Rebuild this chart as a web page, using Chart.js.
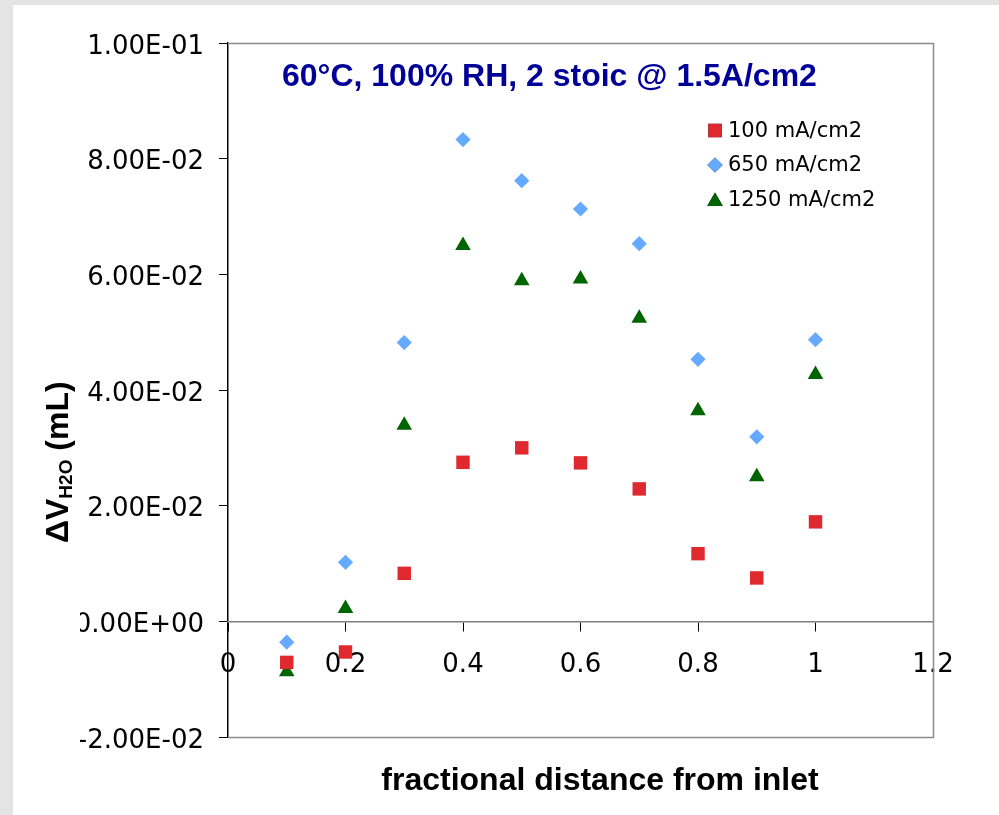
<!DOCTYPE html>
<html>
<head>
<meta charset="utf-8">
<script src="https://cdn.jsdelivr.net/npm/chart.js@4.4.1/dist/chart.umd.min.js"></script>
<style>
  html, body { margin: 0; padding: 0; background: #ffffff; }
  #wrap { width: 999px; height: 815px; }
</style>
</head>
<body>
<div id="wrap"><canvas id="scatter" width="999" height="815"></canvas></div>
<script>
// fractional distance from inlet
const distance = [0.1, 0.2, 0.3, 0.4, 0.5, 0.6, 0.7, 0.8, 0.9, 1.0];

// delta V H2O (mL) for each current density
const dv100 = [-0.0071, -0.0053, 0.0083, 0.0275, 0.0300, 0.0274, 0.0229, 0.0117, 0.0075, 0.0172];
const dv650 = [-0.0036, 0.0102, 0.0482, 0.0833, 0.0762, 0.0713, 0.0653, 0.0453, 0.0319, 0.0487];
const dv1250 = [-0.0087, 0.0022, 0.0339, 0.0650, 0.0589, 0.0592, 0.0524, 0.0364, 0.0250, 0.0427];

const seriesNames = ["100 mA/cm2", "650 mA/cm2", "1250 mA/cm2"];
const yTicks = [-0.02, 0, 0.02, 0.04, 0.06, 0.08, 0.1];
const xTicks = [0, 0.2, 0.4, 0.6, 0.8, 1, 1.2];

const chartTitle = "60\u00B0C, 100% RH, 2 stoic @ 1.5A/cm2";
const xTitle = "fractional distance from inlet";

function toPoints(ys) {
  return distance.map((x, i) => ({ x: x, y: ys[i] }));
}

// excel style 1.00E-01
function sciLabel(v) {
  if (Math.abs(v) < 1e-12) v = 0;
  const parts = v.toExponential(2).split("e");
  let exp = parseInt(parts[1], 10);
  const sign = exp < 0 ? "-" : "+";
  exp = Math.abs(exp);
  return parts[0] + "E" + sign + (exp < 10 ? "0" + exp : "" + exp);
}

const frame = {
  id: "frame",
  beforeDraw(chart) {
    const ctx = chart.ctx;
    ctx.save();
    ctx.fillStyle = "#ffffff";
    ctx.fillRect(0, 0, chart.width, chart.height);
    ctx.fillStyle = "#e4e4e4";
    ctx.fillRect(0, 0, chart.width, 5);
    ctx.fillRect(0, 0, 13, chart.height);
    ctx.restore();

    // labels of the value axis get cut at the left like the original
    ctx.save();
    ctx.beginPath();
    ctx.rect(80, 0, chart.width - 80, chart.height);
    ctx.clip();
  },
  beforeDatasetsDraw(chart) {
    const ctx = chart.ctx;
    const a = chart.chartArea;
    ctx.save();
    ctx.strokeStyle = "#8c8c8c";
    ctx.lineWidth = 1.5;
    ctx.beginPath();
    ctx.moveTo(a.left, a.top + 0.5);
    ctx.lineTo(a.right + 0.5, a.top + 0.5);
    ctx.lineTo(a.right + 0.5, a.bottom + 0.5);
    ctx.lineTo(a.left, a.bottom + 0.5);
    ctx.stroke();
    ctx.restore();
  },
  afterDraw(chart) {
    const ctx = chart.ctx;
    ctx.restore();

    // title inside the plot
    ctx.save();
    ctx.fillStyle = "#000099";
    ctx.font = "bold 32px 'Liberation Sans', Arial, sans-serif";
    ctx.textAlign = "left";
    ctx.textBaseline = "alphabetic";
    ctx.fillText(chartTitle, 282, 86);

    // legend
    const styles = chart.data.datasets;
    const legendY = [130.5, 165, 199.5];
    ctx.font = "21px 'DejaVu Sans', sans-serif";
    ctx.fillStyle = "#000000";
    ctx.textBaseline = "middle";
    styles.forEach((ds, i) => {
      Chart.helpers.drawPoint(ctx, {
        pointStyle: ds.pointStyle,
        radius: ds.pointRadius,
        rotation: 0,
        borderWidth: 0
      }, 715, legendY[i] + (ds.pointStyle === "triangle" ? 2 : 0));
      ctx.fillStyle = ds.backgroundColor;
      ctx.fill();
      ctx.fillStyle = "#000000";
      ctx.fillText(ds.label, 728, legendY[i] + 1);
    });

    // x axis title
    ctx.font = "bold 32px 'Liberation Sans', Arial, sans-serif";
    ctx.textAlign = "center";
    ctx.textBaseline = "alphabetic";
    ctx.fillText(xTitle, 600, 790);

    // y axis title with subscript
    ctx.translate(68, 543);
    ctx.rotate(-Math.PI / 2);
    ctx.textAlign = "left";
    ctx.font = "bold 32px 'Liberation Sans', Arial, sans-serif";
    ctx.fillText("\u0394V", 0, 0);
    let w = ctx.measureText("\u0394V").width;
    ctx.font = "bold 19px 'Liberation Sans', Arial, sans-serif";
    ctx.fillText("H2O", w, 4);
    w += ctx.measureText("H2O").width;
    ctx.font = "bold 32px 'Liberation Sans', Arial, sans-serif";
    ctx.fillText(" (mL)", w, 0);
    ctx.restore();
  }
};

const scatter = document.getElementById("scatter");
var myChart = new Chart(scatter, {
  type: "scatter",
  data: {
    datasets: [
      {
        label: seriesNames[0],
        data: toPoints(dv100),
        pointStyle: "rect",
        pointRadius: 9.5,
        backgroundColor: "#e0282f",
        borderColor: "#e0282f",
        borderWidth: 0,
      },
      {
        label: seriesNames[1],
        data: toPoints(dv650),
        pointStyle: "rectRot",
        pointRadius: 7.6,
        backgroundColor: "#66aaff",
        borderColor: "#66aaff",
        borderWidth: 0,
      },
      {
        label: seriesNames[2],
        data: toPoints(dv1250),
        pointStyle: "triangle",
        pointRadius: 9,
        backgroundColor: "#006400",
        borderColor: "#006400",
        borderWidth: 0,
      },
    ]
  },
  options: {
    responsive: false,
    animation: false,
    events: [],
    layout: {
      padding: { left: 0, right: 66, top: 43, bottom: 78 }
    },
    plugins: {
      legend: { display: false },
      tooltip: { enabled: false },
    },
    scales: {
      y: {
        type: "linear",
        position: "left",
        min: -0.02,
        max: 0.1,
        afterBuildTicks: (scale) => {
          scale.ticks = yTicks.map(v => ({ value: v }));
        },
        afterFit: (scale) => {
          scale.width = 228;
        },
        ticks: {
          callback: (v) => sciLabel(v),
          font: { family: "'DejaVu Sans', sans-serif", size: 26 },
          color: "#000000",
          padding: 15,
          labelOffset: 4,
        },
        grid: {
          drawOnChartArea: false,
          drawTicks: true,
          tickLength: 9,
          color: "#000000",
        },
        border: { color: "#000000", width: 1.5 },
      },
      x: {
        type: "linear",
        position: { y: 0 },
        min: 0,
        max: 1.2,
        afterBuildTicks: (scale) => {
          scale.ticks = xTicks.map(v => ({ value: v }));
        },
        ticks: {
          callback: (v) => String(Number(v.toFixed(1))),
          font: { family: "'DejaVu Sans', sans-serif", size: 26 },
          color: "#000000",
          padding: 19,
          maxRotation: 0,
        },
        grid: {
          drawOnChartArea: false,
          drawTicks: true,
          tickLength: 9,
          color: "#000000",
        },
        border: { color: "#808080", width: 1.5 },
      },
    },
  },
  plugins: [frame],
});
</script>
</body>
</html>
